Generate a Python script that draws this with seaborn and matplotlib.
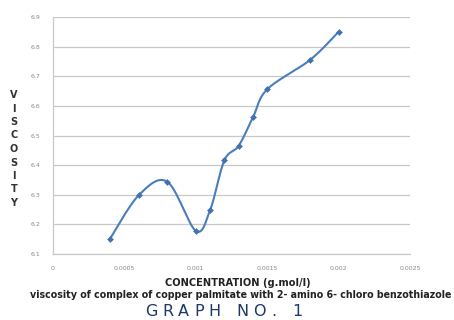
import numpy as np
import pandas as pd
import seaborn as sns
import matplotlib.pyplot as plt

# data
concentration = [0.0004, 0.0006, 0.0008, 0.0010, 0.0011, 0.0012, 0.0013, 0.0014, 0.0015, 0.0018, 0.0020]
viscosity = [6.152, 6.298, 6.344, 6.178, 6.248, 6.416, 6.465, 6.561, 6.656, 6.755, 6.850]
x_ticks = [0, 0.0005, 0.001, 0.0015, 0.002, 0.0025]
x_tick_labels = ['0', '0.0005', '0.001', '0.0015', '0.002', '0.0025']
y_ticks = [6.1, 6.2, 6.3, 6.4, 6.5, 6.6, 6.7, 6.8, 6.9]
y_tick_labels = ['6.1', '6.2', '6.3', '6.4', '6.5', '6.6', '6.7', '6.8', '6.9']


def smooth_curve(x, y, xr, yr, n=30):
    # Catmull-Rom style smoothing like a spreadsheet "smoothed line"
    px = np.asarray(x) / xr
    py = np.asarray(y) / yr
    px = np.concatenate([[px[0]], px, [px[-1]]])
    py = np.concatenate([[py[0]], py, [py[-1]]])
    outx, outy = [], []
    t = np.linspace(0, 1, n)
    for i in range(1, len(px) - 2):
        p0, p1, p2, p3 = (np.array([px[j], py[j]]) for j in (i - 1, i, i + 1, i + 2))
        c1 = p1 + (p2 - p0) / 6
        c2 = p2 - (p3 - p1) / 6
        b = ((1 - t) ** 3)[:, None] * p1 + (3 * (1 - t) ** 2 * t)[:, None] * c1 \
            + (3 * (1 - t) * t ** 2)[:, None] * c2 + (t ** 3)[:, None] * p2
        outx.extend(b[:, 0])
        outy.extend(b[:, 1])
    return np.array(outx) * xr, np.array(outy) * yr


def spaced_text(fig, text, x0, x1, y, **kw):
    # put characters one by one so the word spans x0..x1 pixels
    renderer = fig.canvas.get_renderer()
    widths = []
    items = []
    for ch in text:
        t = fig.text(0, 1 - y / 320, ch, va='center', ha='left', **kw)
        widths.append(t.get_window_extent(renderer).width if ch != ' ' else 6)
        items.append(t)
    gap = (x1 - x0 - sum(widths)) / (len(text) - 1)
    x = x0
    for t, w in zip(items, widths):
        t.set_x(x / 454)
        x += w + gap


sns.set_style('white')
plt.rcParams['font.family'] = ['DejaVu Sans']

fig = plt.figure(figsize=(4.54, 3.2), dpi=100)
ax = fig.add_axes([53 / 454, 1 - 254 / 320, (410 - 53) / 454, (254 - 17) / 320])

sx, sy = smooth_curve(concentration, viscosity, 0.0025, 0.8 * 0.66)
curve = pd.DataFrame({'x': sx, 'y': sy})
pts = pd.DataFrame({'x': concentration, 'y': viscosity})
sns.lineplot(data=curve, x='x', y='y', ax=ax, color='#4a7ebb', linewidth=1.5, sort=False, zorder=3)
sns.scatterplot(data=pts, x='x', y='y', ax=ax, color='#3f72b0', marker='D', s=10,
                edgecolor='#3f72b0', zorder=4)

ax.set_xlim(0, 0.0025)
ax.set_ylim(6.1, 6.9)
ax.set_xticks(x_ticks)
ax.set_xticklabels(x_tick_labels)
ax.set_yticks(y_ticks)
ax.set_yticklabels(y_tick_labels)
ax.tick_params(labelsize=4.5, colors='#888888', length=3, width=0.8, pad=6)
ax.yaxis.grid(True, color='#c8c8c8', linewidth=0.9)
for s in ['top', 'right']:
    ax.spines[s].set_visible(False)
for s in ['left', 'bottom']:
    ax.spines[s].set_color('#c8c8c8')
    ax.spines[s].set_linewidth(0.9)
ax.set_xlabel('')
ax.set_ylabel('')

fig.text(238 / 454, 1 - 283 / 320, 'CONCENTRATION (g.mol/l)', ha='center', va='center',
         fontsize=7.1, fontweight='bold', color='#222222')
fig.text(241 / 454, 1 - 295 / 320,
         'viscosity of complex of copper palmitate with 2- amino 6- chloro benzothiazole',
         ha='center', va='center', fontsize=6.85, fontweight='bold', color='#222222')
spaced_text(fig, 'GRAPH NO. 1', 145, 302, 311.5, fontsize=11.5, color='#1f3864')

for i, ch in enumerate('VISCOSITY'):
    fig.text(14 / 454, 1 - (95 + i * 13.5) / 320, ch, ha='center', va='center',
             fontsize=7, fontweight='bold', color='#333333')

fig.savefig('out.png', dpi=100)
